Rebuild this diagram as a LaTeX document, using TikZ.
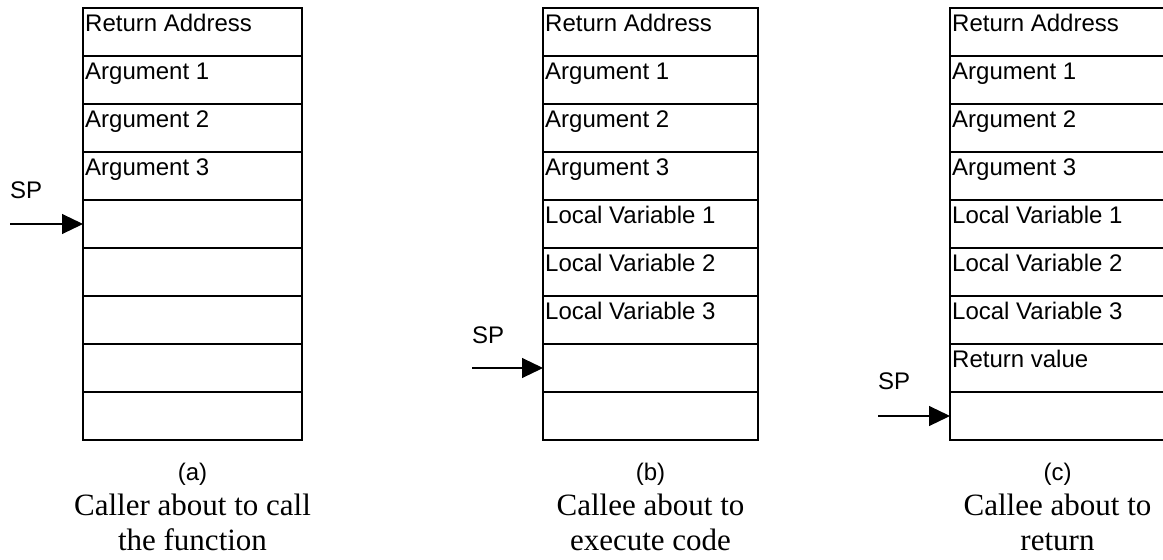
\documentclass[tikz,border=0pt]{standalone}
\usepackage{fontspec}
\setmainfont{Liberation Serif}
\setsansfont{Liberation Sans}
\usetikzlibrary{arrows.meta}

% one stack of nine cells: #1 name prefix, #2 left x, #3 width, #4 cell labels
\newcommand\framestack[4]{%
  \foreach \lab [count=\i] in {#4} {
    \node[cell, minimum width=#3, anchor=north west] (#1\i) at (#2, {8+(\i-1)*48}) {};
    \node[celltext] (#1t\i) at ([shift={(2,23)}]#1\i.north west) {\lab};
  }}

\begin{document}
\begin{tikzpicture}[x=1pt, y=-1pt,
  cell/.style={draw, line width=2pt, minimum height=48pt, inner sep=0pt, outer sep=0pt},
  celltext/.style={anchor=base west, inner sep=0pt, font=\sffamily\fontsize{24}{28}\selectfont},
  splabel/.style={anchor=base west, inner sep=0pt, font=\sffamily\fontsize{24}{28}\selectfont},
  sparrow/.style={line width=1.1pt, -{Triangle[length=21pt, width=20pt]}},
  tag/.style={anchor=base, inner sep=0pt, font=\sffamily\fontsize{24}{28}\selectfont},
  caption/.style={anchor=base, inner sep=0pt, font=\rmfamily\fontsize{31}{36}\selectfont}]

  \fill[white] (0,0) rectangle (1163,560);
  \useasboundingbox (0,0) rectangle (1163,560);
  \clip (0,0) rectangle (1163,560);

  % (a) caller about to call
  \framestack{a}{83}{219pt}{Return Address,Argument 1,Argument 2,Argument 3,{},{},{},{},{}}
  \node[splabel] (spa) at (10,198) {SP};
  \coordinate (spastart) at (10,224);
  \draw[sparrow] (spastart) -- (a5.west);
  \node[tag] (tga) at (192.5,480) {(a)};
  \node[caption] (ca1) at (192.5,515) {Caller about to call};
  \node[caption] (ca2) at (192.5,550) {the function};

  % (b) callee about to execute code
  \framestack{b}{543}{215pt}{Return Address,Argument 1,Argument 2,Argument 3,Local Variable 1,Local Variable 2,Local Variable 3,{},{}}
  \node[splabel] (spb) at (472,343) {SP};
  \coordinate (spbstart) at (472,368);
  \draw[sparrow] (spbstart) -- (b8.west);
  \node[tag] (tgb) at (650.5,480) {(b)};
  \node[caption] (cb1) at (650.5,515) {Callee about to};
  \node[caption] (cb2) at (650.5,550) {execute code};

  % (c) callee about to return
  \framestack{c}{950}{215pt}{Return Address,Argument 1,Argument 2,Argument 3,Local Variable 1,Local Variable 2,Local Variable 3,Return value,{}}
  \node[splabel] (spc) at (878,389) {SP};
  \coordinate (spcstart) at (878,416);
  \draw[sparrow] (spcstart) -- (c9.west);
  \node[tag] (tgc) at (1057.5,480) {(c)};
  \node[caption] (cc1) at (1057.5,515) {Callee about to};
  \node[caption] (cc2) at (1057.5,550) {return};
\end{tikzpicture}
\end{document}
